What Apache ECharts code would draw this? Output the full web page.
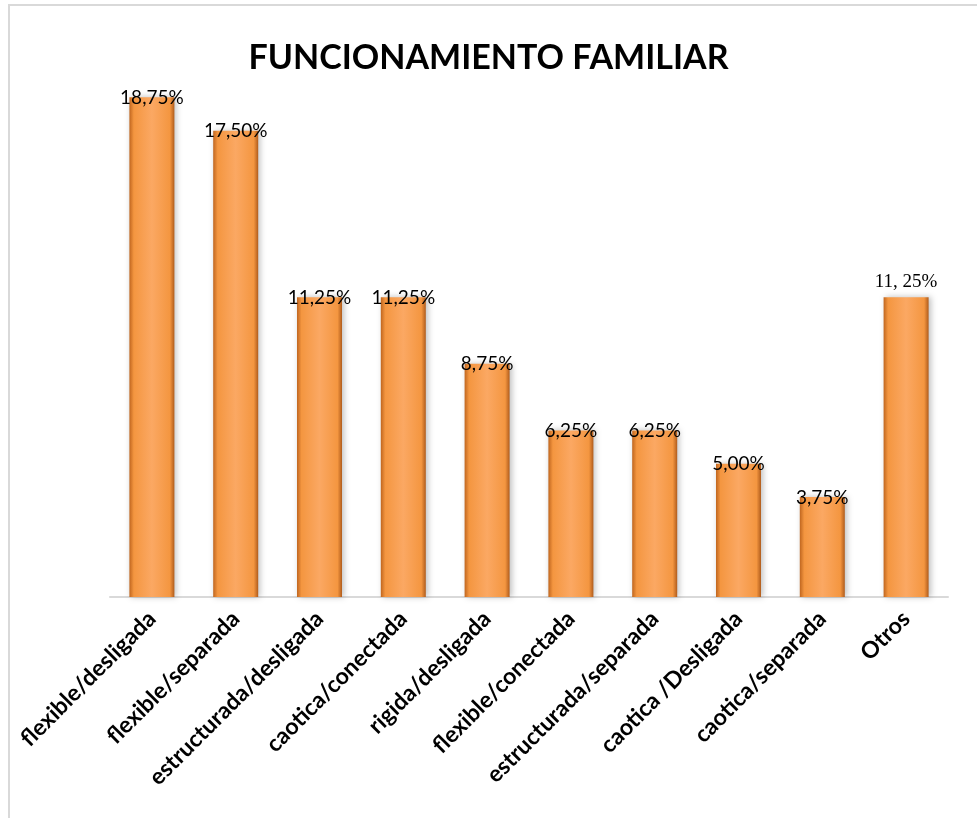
<!DOCTYPE html>
<html>
<head>
<meta charset="UTF-8"/>
<title>Funcionamiento familiar</title>
<script src="https://cdn.jsdelivr.net/npm/echarts@6/dist/echarts.min.js"></script>
<style>
html, body { margin: 0; padding: 0; background: #fff; }
#main { width: 977px; height: 818px; }
</style>
</head>
<body>
<div id="main"></div>
<script type="text/javascript">
// categorias y porcentajes
var categorias = ['flexible/desligada', 'flexible/separada', 'estructurada/desligada', 'caotica/conectada',
  'rigida/desligada', 'flexible/conectada', 'estructurada/separada', 'caotica /Desligada', 'caotica/separada', 'Otros'];
var porcentajes = [18.75, 17.50, 11.25, 11.25, 8.75, 6.25, 6.25, 5.00, 3.75, 11.25];
var etiquetas = ['18,75%', '17,50%', '11,25%', '11,25%', '8,75%', '6,25%', '6,25%', '5,00%', '3,75%', '11, 25%'];

var colorBarra = {
  type: 'linear', x: 0, y: 0, x2: 1, y2: 0,
  colorStops: [
    { offset: 0, color: '#c0661f' },
    { offset: 0.1, color: '#f49640' },
    { offset: 0.5, color: '#fba863' },
    { offset: 0.9, color: '#f49640' },
    { offset: 1, color: '#b05c1c' }
  ]
};

var datos = porcentajes.map(function (v, i) {
  var d = { value: v };
  if (i === porcentajes.length - 1) {
    d.label = { fontFamily: 'Liberation Serif', fontSize: 19, distance: 6 };
  }
  return d;
});

var myChart = echarts.init(document.getElementById('main'));
var option = {
  animation: false,
  title: {
    text: 'FUNCIONAMIENTO FAMILIAR',
    left: 'center',
    top: 36,
    textStyle: { fontFamily: 'Lato', fontWeight: 'bold', fontSize: 34, color: '#000' }
  },
  graphic: [{
    type: 'rect',
    shape: { x: 9, y: 5, width: 1000, height: 900 },
    style: { fill: 'none', stroke: '#d9d9d9', lineWidth: 2 },
    silent: true
  }],
  grid: { left: 110, right: 29, top: 64, bottom: 221 },
  xAxis: {
    type: 'category',
    data: categorias,
    axisLine: { lineStyle: { color: '#d9d9d9', width: 2 } },
    axisTick: { show: false },
    axisLabel: {
      rotate: 45,
      interval: 0,
      margin: 18,
      fontFamily: 'Lato',
      fontWeight: 'bold',
      fontSize: 23,
      color: '#000'
    }
  },
  yAxis: { type: 'value', min: 0, max: 20, show: false, splitLine: { show: false } },
  series: [{
    type: 'bar',
    data: datos,
    barWidth: 45,
    itemStyle: {
      color: colorBarra,
      shadowColor: 'rgba(0,0,0,0.25)',
      shadowBlur: 6,
      shadowOffsetX: 2
    },
    label: {
      show: true,
      position: 'top',
      distance: -10,
      fontFamily: 'Lato',
      fontSize: 19,
      color: '#000',
      formatter: function (p) { return etiquetas[p.dataIndex]; }
    }
  }]
};
myChart.setOption(option);
</script>
</body>
</html>
